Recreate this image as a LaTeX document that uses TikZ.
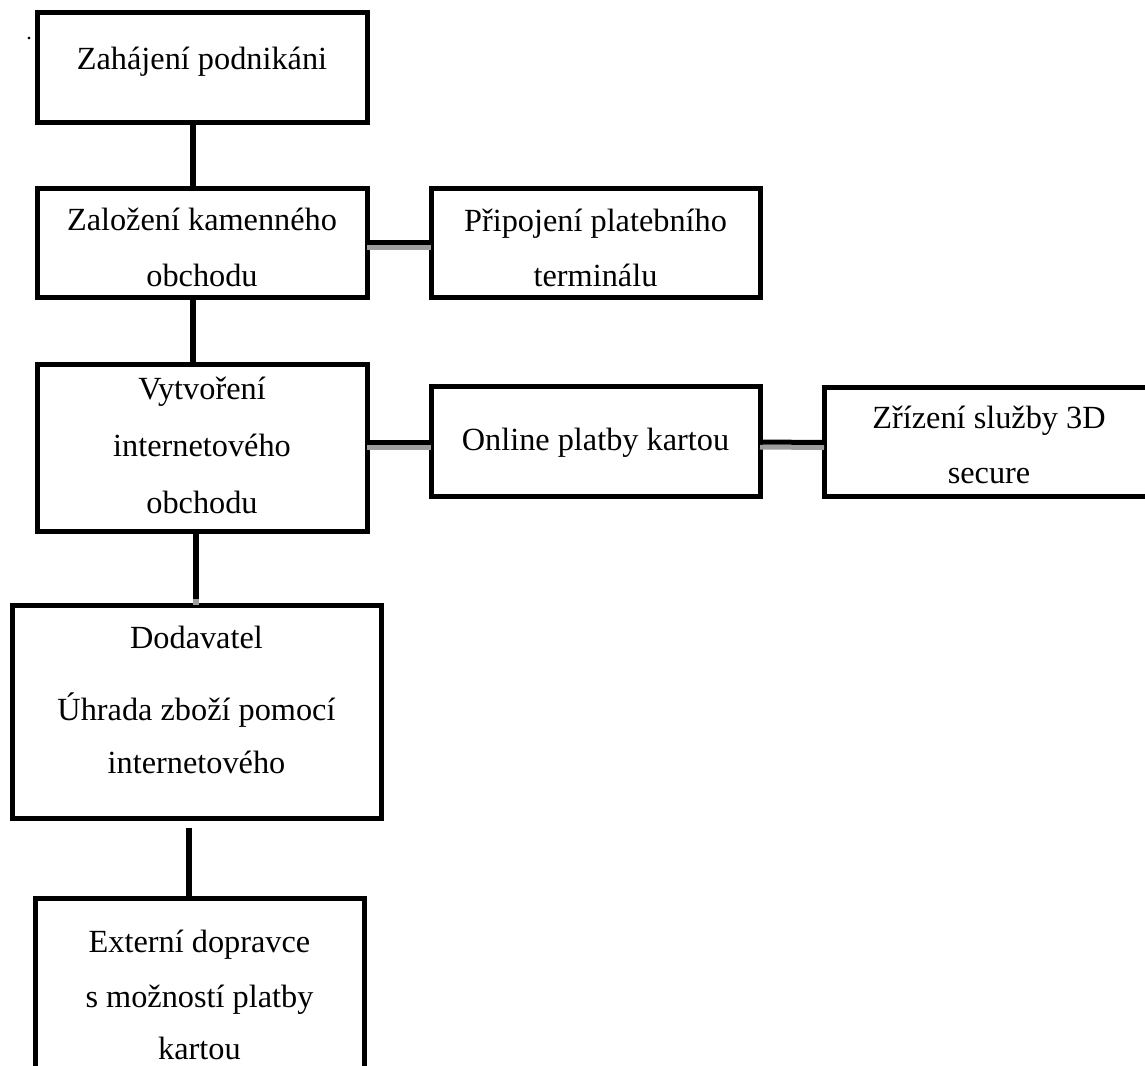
\documentclass[tikz,border=0pt]{standalone}
\usepackage{fontspec}
\setmainfont{Liberation Serif}
\begin{document}
\begin{tikzpicture}[x=1pt,y=-1pt,
  box/.style={draw=black,line width=5pt,fill=white,rectangle,inner sep=0pt,outer sep=0pt},
  txt/.style={font=\fontsize{32.3}{38}\selectfont,inner sep=0pt,outer sep=0pt,anchor=base},
  conn/.style={draw=black,line width=5.5pt},
  shade/.style={draw=black!38,line width=5pt}]
\useasboundingbox (0,0) rectangle (1145,1065);
\clip (0,0) rectangle (1145,1065);
% boxes
\node[box,minimum width=330pt,minimum height=109pt] (b1) at (202,67.5) {};
\node[box,minimum width=330pt,minimum height=109pt] (b2) at (202,242.5) {};
\node[box,minimum width=329pt,minimum height=109pt] (b3) at (595.5,242.5) {};
\node[box,minimum width=330pt,minimum height=167pt] (b4) at (202,447.5) {};
\node[box,minimum width=329pt,minimum height=110pt] (b5) at (595.5,441) {};
\node[box,minimum width=331pt,minimum height=109pt] (b6) at (989.5,441.5) {};
\node[box,minimum width=369pt,minimum height=213pt] (b7) at (196.5,711.5) {};
\node[box,minimum width=329pt,minimum height=192pt] (b8) at (199.5,994) {};
% vertical connectors
\draw[conn] ([xshift=-9pt]b1.south) -- ([xshift=-9pt]b2.north);
\draw[conn] ([xshift=-9pt]b2.south) -- ([xshift=-9pt]b4.north);
\coordinate (v4) at ([xshift=-6pt,yshift=6pt]b4.south |- b7.north);
\draw[conn] ([xshift=-6pt]b4.south) -- (v4);
\draw[shade,line width=5.5pt] (v4) -- ([xshift=-6pt]b4.south |- b7.north);
\draw[conn] ([xshift=-7.5pt,yshift=-10pt]b7.south) -- ([xshift=-7.5pt]b7.south |- b8.north);
% horizontal connectors with grey shadow
\draw[shade] ([yshift=-5pt]b2.east) -- ([yshift=-5pt]b3.west);
\draw[conn,line width=5pt] (b2.east) -- (b3.west);
\draw[shade] ([yshift=-6pt]b4.east |- b5.west) -- ([yshift=-6pt]b5.west);
\draw[conn,line width=5pt] ([yshift=-1pt]b4.east |- b5.west) -- ([yshift=-1pt]b5.west);
\draw[shade] ([yshift=-6pt]b5.east) -- ([yshift=-6pt]b6.west);
\draw[conn,line width=5pt] ([yshift=-1pt]b5.east) -- ([yshift=-1pt]b6.west);
% texts
\node[txt,font=\fontsize{22}{24}\selectfont] (dot) at (29,40) {.};
\node[txt] (t1) at (202,70) {Zahájení podnikáni};
\node[txt] (t2a) at (202,230) {Založení kamenného};
\node[txt] (t2b) at (202,286) {obchodu};
\node[txt] (t3a) at (595.5,231) {Připojení platebního};
\node[txt] (t3b) at (595.5,286) {terminálu};
\node[txt] (t4a) at (202,399) {Vytvoření};
\node[txt] (t4b) at (202,456) {internetového};
\node[txt] (t4c) at (202,513) {obchodu};
\node[txt] (t5) at (595.5,450) {Online platby kartou};
\node[txt] (t6a) at (989,428) {Zřízení služby 3D};
\node[txt] (t6b) at (989,483) {secure};
\node[txt] (t7a) at (196.5,648) {Dodavatel};
\node[txt] (t7b) at (196.5,720) {Úhrada zboží pomocí};
\node[txt] (t7c) at (196.5,773) {internetového};
\node[txt] (t8a) at (199.5,952) {Externí dopravce};
\node[txt] (t8b) at (199.5,1007) {s možností platby};
\node[txt] (t8c) at (199.5,1059) {kartou};
\end{tikzpicture}
\end{document}
